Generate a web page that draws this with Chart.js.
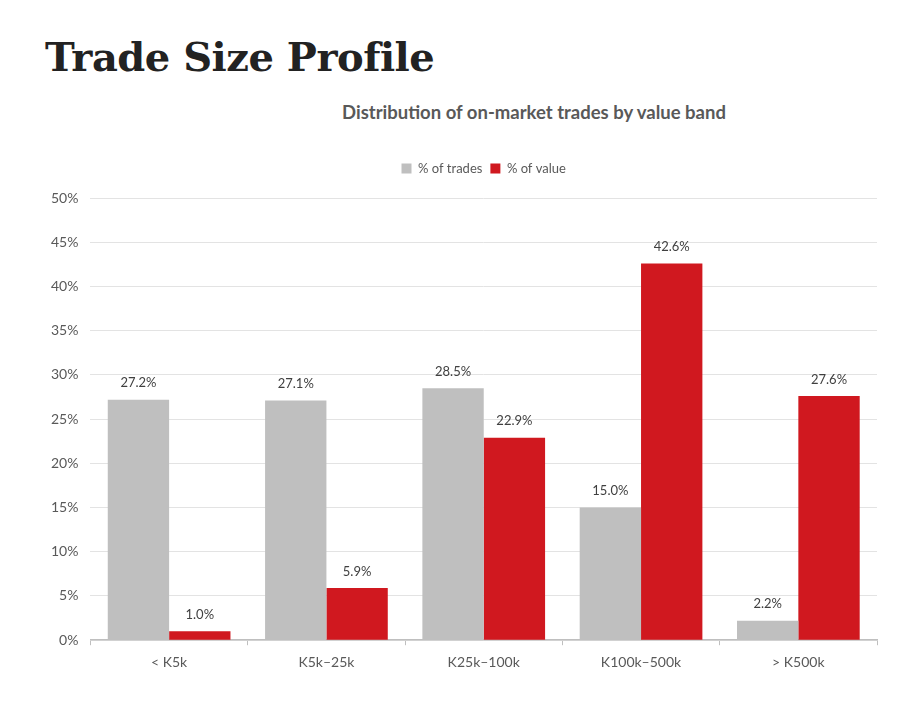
<!DOCTYPE html>
<html>
<head>
<meta charset="utf-8">
<script src="https://cdn.jsdelivr.net/npm/chart.js@4/dist/chart.umd.min.js"></script>
<style>
  body { margin: 0; background: #fff; width: 900px; height: 713px; position: relative; overflow: hidden; }
  .page-title { position: absolute; left: 45px; top: 33px; margin: 0; font-family: 'DejaVu Serif', serif; font-weight: 900; font-size: 40px; color: #222; letter-spacing: -0.5px; }
  .chart-title { position: absolute; left: 0; width: 1068px; top: 101px; text-align: center; font-family: Lato, sans-serif; font-weight: bold; font-size: 18.5px; color: #595959; }
  #chartBox { position: absolute; left: 0; top: 144px; width: 900px; height: 544px; }
</style>
</head>
<body>
<h1 class="page-title">Trade Size Profile</h1>
<div class="chart-title">Distribution of on-market trades by value band</div>
<div id="chartBox"><canvas id="tradeChart"></canvas></div>
<script>
const bands = ['< K5k', 'K5k–25k', 'K25k–100k', 'K100k–500k', '> K500k'];
const pctTrades = [27.2, 27.1, 28.5, 15.0, 2.2];
const pctValue = [1.0, 5.9, 22.9, 42.6, 27.6];

// push the plot a bit further below the legend
const legendGap = {
  id: 'legendGap',
  beforeInit(chart) {
    const fit = chart.legend.fit;
    chart.legend.fit = function () {
      fit.bind(chart.legend)();
      this.height += 13;
    };
  }
};

const barLabels = {
  id: 'barLabels',
  afterDatasetsDraw(chart) {
    const ctx = chart.ctx;
    ctx.save();
    ctx.font = '13px Lato, sans-serif';
    ctx.fillStyle = '#404040';
    ctx.textAlign = 'center';
    ctx.textBaseline = 'bottom';
    chart.data.datasets.forEach((ds, i) => {
      chart.getDatasetMeta(i).data.forEach((bar, j) => {
        ctx.fillText(ds.data[j].toFixed(1) + '%', bar.x, bar.y - 10);
      });
    });
    ctx.restore();
  }
};

new Chart(document.querySelector('#tradeChart'), {
  type: 'bar',
  data: {
    labels: bands,
    datasets: [{
      label: '% of trades',
      data: pctTrades,
      backgroundColor: '#bfbfbf'
    }, {
      label: '% of value',
      data: pctValue,
      backgroundColor: '#d0181f'
    }]
  },
  options: {
    responsive: true,
    maintainAspectRatio: false,
    animation: false,
    layout: { padding: { left: 39, right: 23, top: 10, bottom: 8 } },
    datasets: {
      bar: { categoryPercentage: 0.78, barPercentage: 1.0 }
    },
    plugins: {
      legend: {
        position: 'top',
        fullSize: false,
        labels: {
          boxWidth: 10,
          boxHeight: 10,
          padding: 8,
          color: '#595959',
          font: { family: 'Lato, sans-serif', size: 13 }
        }
      },
      title: { display: false },
      tooltip: { enabled: false }
    },
    scales: {
      x: {
        grid: { display: true, offset: true, drawOnChartArea: false, tickLength: 5, color: '#bfbfbf' },
        border: { color: '#bfbfbf', width: 1.5 },
        ticks: { color: '#595959', padding: 9, font: { family: 'Lato, sans-serif', size: 14 } }
      },
      y: {
        min: 0,
        max: 50,
        ticks: {
          stepSize: 5,
          color: '#595959',
          padding: 12,
          font: { family: 'Lato, sans-serif', size: 14 },
          callback: v => v + '%'
        },
        grid: { color: '#e3e3e3', drawTicks: false },
        border: { display: false }
      }
    }
  },
  plugins: [legendGap, barLabels]
});
</script>
</body>
</html>
